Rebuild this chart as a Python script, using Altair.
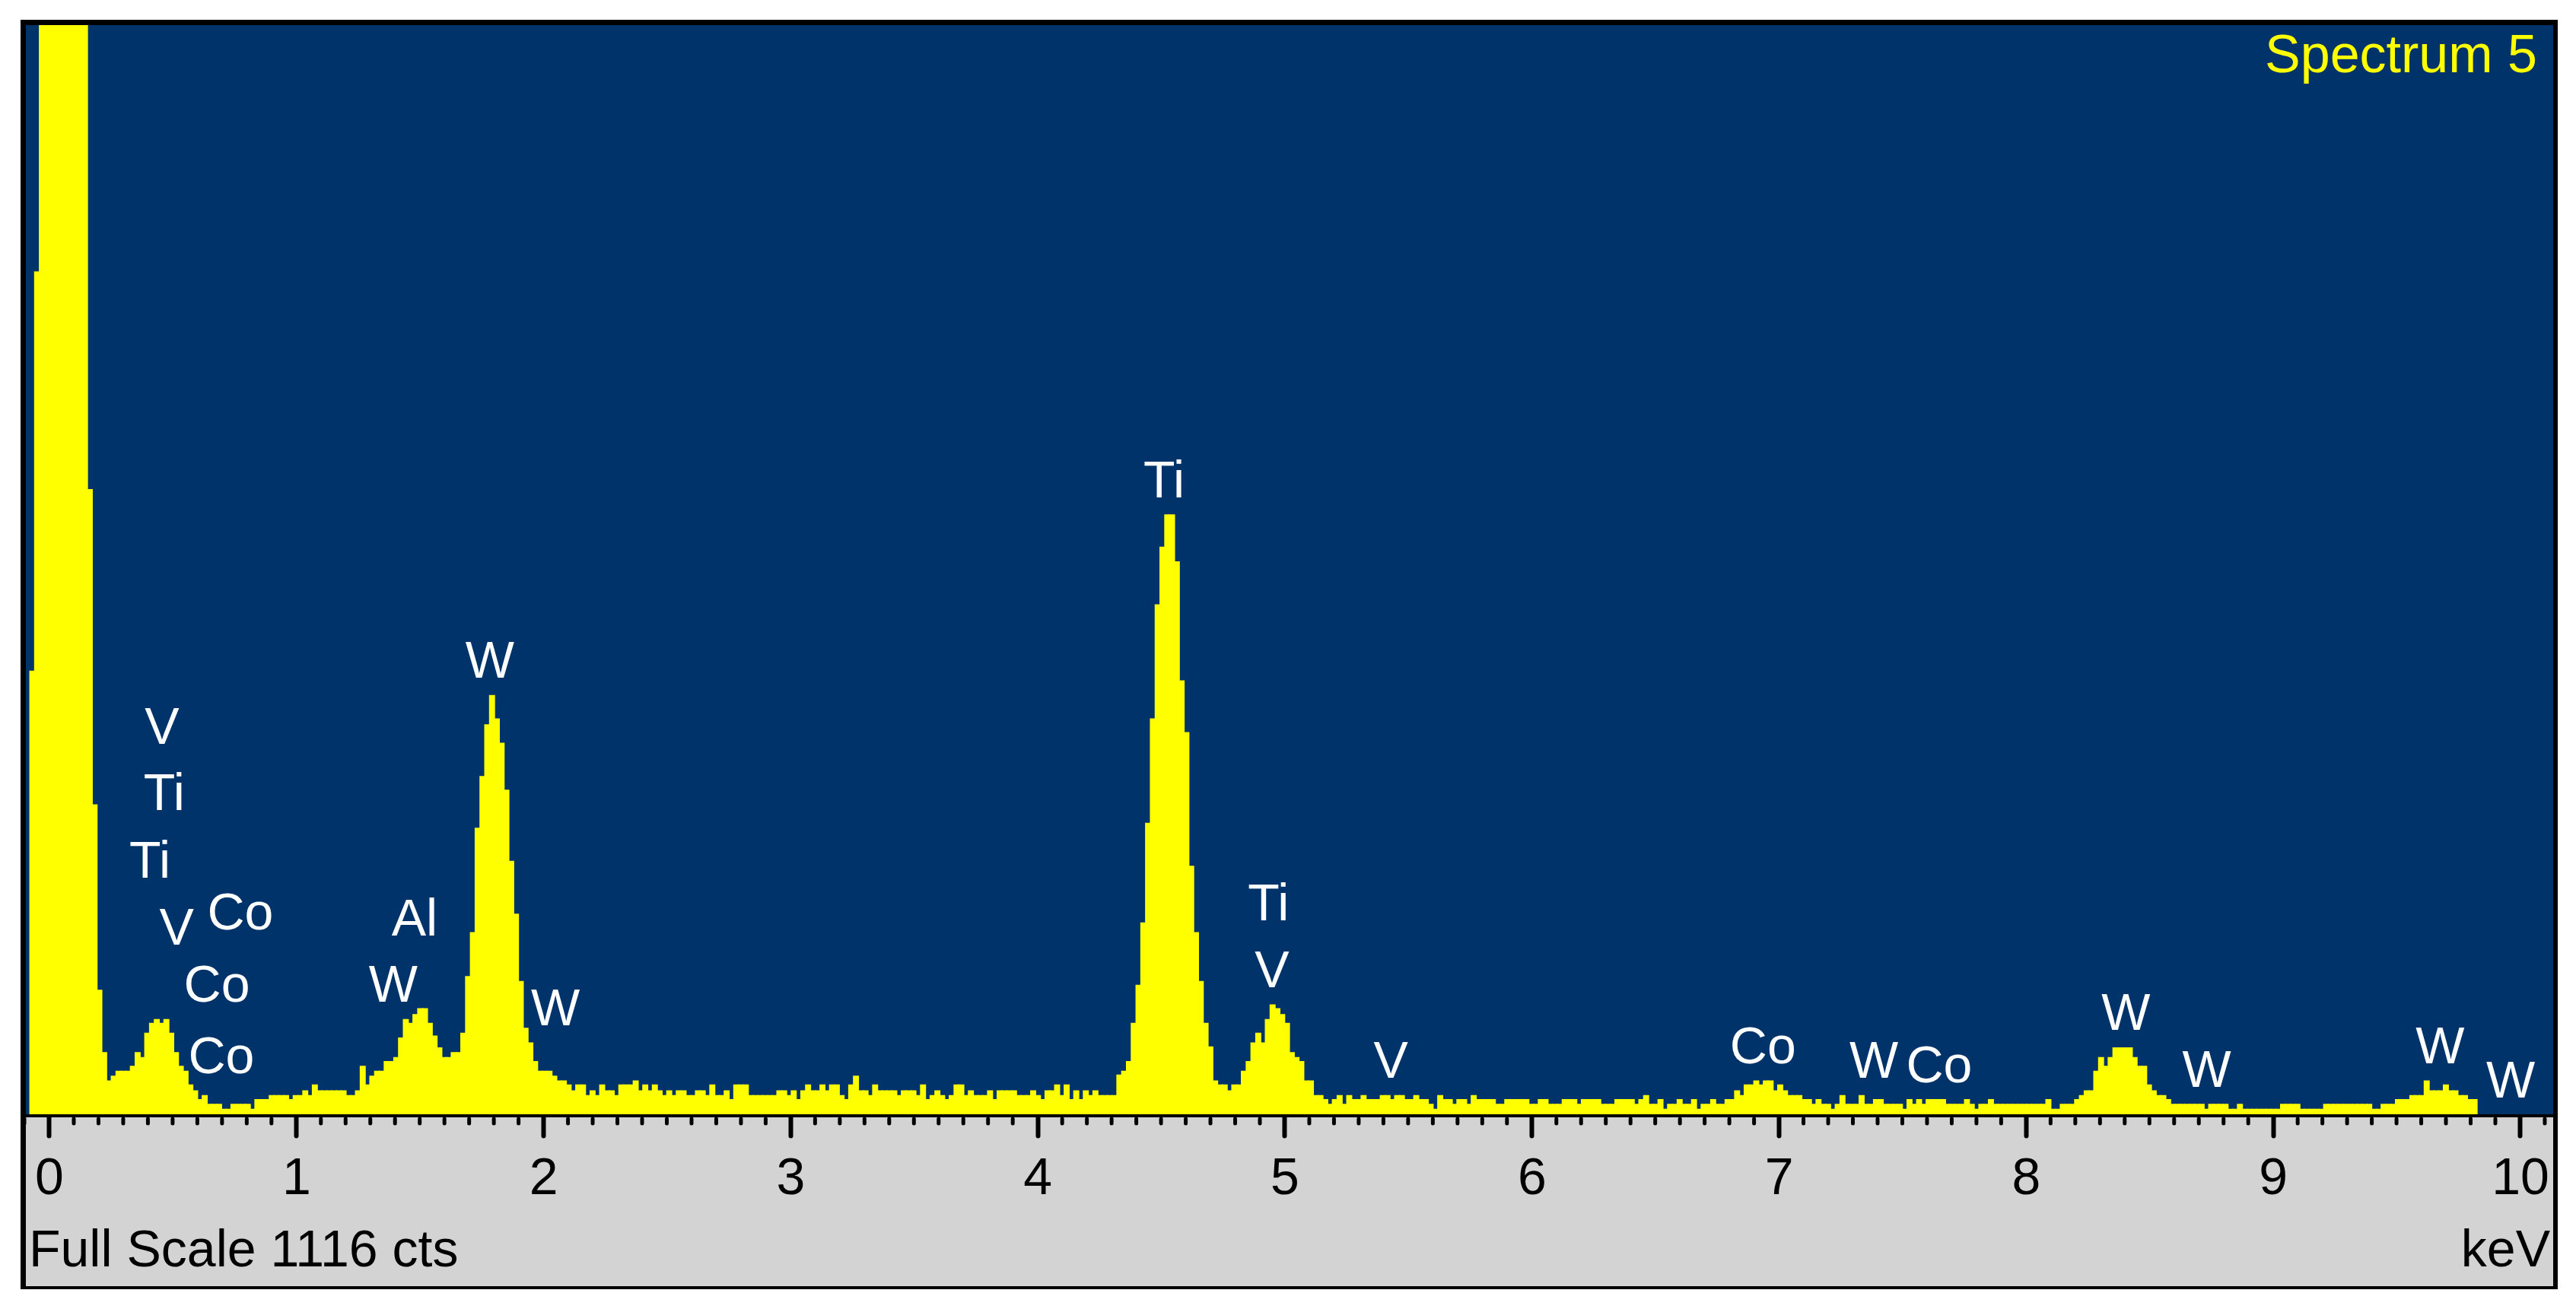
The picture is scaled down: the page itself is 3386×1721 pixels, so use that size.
import altair as alt
import pandas as pd

# ---------------- data ----------------
CHANNEL_KEV = 0.01938      # width of one spectrum channel (keV)
FIRST_CHANNEL = -4         # index of the first drawn channel

# counts per channel, starting at channel -4 (10 per row)
counts = [
    454, 863, 1116, 1116, 1116, 1116, 1116, 1116, 1116, 1116,
    1116, 1116, 640, 317, 127, 63, 34, 39, 44, 44,
    44, 49, 63, 58, 83, 93, 97, 93, 97, 83,
    63, 49, 44, 30, 24, 15, 19, 10, 10, 10,
    5, 5, 10, 10, 10, 10, 5, 15, 15, 15,
    19, 19, 19, 19, 15, 19, 19, 24, 19, 30,
    24, 24, 24, 24, 24, 24, 19, 19, 24, 49,
    30, 39, 44, 44, 54, 54, 58, 78, 97, 93,
    102, 108, 108, 93, 80, 68, 58, 58, 63, 63,
    83, 141, 186, 293, 346, 399, 429, 405, 380, 332,
    259, 205, 136, 88, 73, 54, 44, 44, 44, 39,
    34, 34, 30, 24, 30, 30, 19, 24, 19, 30,
    24, 24, 19, 30, 30, 30, 34, 24, 30, 24,
    30, 24, 19, 24, 19, 24, 24, 19, 19, 24,
    24, 19, 30, 19, 19, 24, 15, 30, 30, 30,
    19, 19, 19, 19, 19, 19, 24, 24, 19, 24,
    15, 24, 30, 24, 24, 30, 24, 30, 30, 19,
    15, 30, 39, 24, 24, 19, 30, 24, 24, 24,
    24, 19, 24, 24, 24, 19, 30, 15, 19, 24,
    19, 15, 19, 30, 30, 19, 24, 19, 19, 19,
    24, 15, 24, 24, 24, 24, 19, 19, 19, 24,
    19, 15, 24, 24, 30, 19, 30, 15, 24, 15,
    24, 19, 24, 19, 19, 19, 19, 40, 44, 54,
    93, 132, 196, 298, 405, 522, 581, 614, 614, 566,
    444, 391, 254, 186, 136, 93, 69, 34, 30, 30,
    24, 30, 30, 44, 54, 73, 83, 73, 97, 112,
    108, 102, 93, 63, 58, 54, 34, 34, 19, 19,
    15, 10, 15, 19, 10, 19, 15, 15, 19, 15,
    15, 15, 19, 19, 15, 19, 19, 15, 15, 19,
    15, 15, 10, 5, 19, 15, 15, 10, 15, 15,
    10, 19, 15, 15, 15, 15, 10, 10, 15, 15,
    15, 15, 15, 10, 10, 15, 15, 10, 10, 10,
    15, 15, 15, 10, 15, 15, 15, 15, 10, 10,
    10, 15, 15, 15, 15, 10, 15, 19, 10, 10,
    15, 5, 10, 10, 15, 10, 10, 15, 5, 10,
    10, 15, 10, 10, 15, 15, 24, 19, 30, 30,
    34, 30, 34, 34, 24, 30, 24, 19, 19, 19,
    15, 15, 10, 15, 10, 10, 5, 10, 19, 10,
    10, 10, 19, 10, 10, 15, 15, 10, 10, 10,
    10, 5, 15, 10, 15, 10, 15, 15, 15, 15,
    10, 10, 10, 10, 15, 10, 5, 10, 10, 15,
    10, 10, 10, 10, 10, 10, 10, 10, 10, 10,
    10, 15, 5, 5, 10, 10, 10, 15, 19, 24,
    24, 44, 58, 49, 58, 68, 68, 68, 68, 58,
    49, 49, 30, 24, 19, 19, 15, 10, 10, 10,
    10, 10, 10, 10, 5, 10, 10, 10, 10, 5,
    5, 10, 5, 5, 5, 5, 5, 5, 5, 5,
    10, 10, 10, 10, 5, 5, 5, 5, 5, 10,
    10, 10, 10, 10, 10, 10, 10, 10, 10, 5,
    5, 10, 10, 10, 15, 15, 15, 19, 19, 19,
    34, 24, 24, 24, 30, 24, 24, 19, 19, 15,
    15,
]

# element labels: text, energy (keV), height (counts)
label_text = ["V", "Ti", "Ti", "V", "Co", "Co", "Co", "Al", "W", "W", "W",
              "Ti", "Ti", "V", "V", "Co", "W", "Co", "W", "W", "W", "W"]
label_kev = [0.457, 0.466, 0.408, 0.516, 0.774, 0.679, 0.697, 1.479, 1.393, 1.784, 2.049,
             4.512, 4.935, 4.949, 5.430, 6.936, 7.385, 7.649, 8.405, 8.732, 9.676, 9.962]
label_cts = [395, 327, 258, 189, 205, 131, 58, 199, 131, 463, 107,
             648, 214, 146, 53, 68, 53, 48, 102, 44, 68, 33]

major_ticks = [0, 1, 2, 3, 4, 5, 6, 7, 8, 9, 10]
minor_ticks = [-0.1] + [round(i * 0.1, 1) for i in range(1, 102) if i % 10 != 0]

FULL_SCALE = 1116
X_DOMAIN = [-0.0939, 10.134]

# ---------------- layout / style ----------------
W, H = 3322, 1432
BLUE = "#00336A"
YELLOW = "#FFFF00"
GRAY = "#D3D3D3"
FONT = "Liberation Sans"

xs = alt.Scale(domain=X_DOMAIN, nice=False, zero=False)
ys = alt.Scale(domain=[0, FULL_SCALE], nice=False, zero=False)

x_axis = alt.Axis(
    values=major_ticks, format="d", title=None, domain=False, grid=False,
    ticks=True, tickSize=24, tickWidth=6, tickColor="black", tickCap="round",
    offset=4, labelFont=FONT, labelFontSize=68, labelColor="black",
    labelPadding=22, labelFlush=False, labelOverlap=False, zindex=1,
)

spec = pd.DataFrame({
    "e0": [(FIRST_CHANNEL + i) * CHANNEL_KEV for i in range(len(counts))],
    "e1": [(FIRST_CHANNEL + i + 1) * CHANNEL_KEV for i in range(len(counts))],
    "cts": counts,
})
labels_df = pd.DataFrame({"t": label_text, "kev": label_kev, "cts": label_cts})
minor_df = pd.DataFrame({"t": minor_ticks})
one = pd.DataFrame({"k": [0]})

frame = alt.Chart(one).mark_rect(color="black").encode(
    x=alt.value(-7), x2=alt.value(W + 6), y=alt.value(-7), y2=alt.value(H + 230))
blue = alt.Chart(one).mark_rect(color=BLUE).encode(
    x=alt.value(0), x2=alt.value(W), y=alt.value(0), y2=alt.value(H))
gray = alt.Chart(one).mark_rect(color=GRAY).encode(
    x=alt.value(0), x2=alt.value(W), y=alt.value(H + 4), y2=alt.value(H + 226))

bars = alt.Chart(spec).mark_rect(
    color=YELLOW, stroke=YELLOW, strokeWidth=1.6, clip=True
).encode(
    x=alt.X("e0:Q", scale=xs, axis=x_axis),
    x2="e1",
    y=alt.Y("cts:Q", scale=ys, axis=None),
    y2=alt.datum(0),
)

labels = alt.Chart(labels_df).mark_text(
    color="white", font=FONT, fontSize=68, align="center", baseline="middle"
).encode(
    x=alt.X("kev:Q", scale=xs, axis=x_axis),
    y=alt.Y("cts:Q", scale=ys, axis=None),
    text="t:N",
)

minor = alt.Chart(minor_df).mark_rule(color="black", strokeWidth=5, strokeCap="round").encode(
    x=alt.X("t:Q", scale=xs, axis=x_axis),
    y=alt.value(H + 6), y2=alt.value(H + 12),
)

spectrum_title = alt.Chart(one).mark_text(
    text="Spectrum 5", color=YELLOW, font=FONT, fontSize=70, align="right", baseline="alphabetic"
).encode(x=alt.value(3301), y=alt.value(62))

full_scale = alt.Chart(one).mark_text(
    text="Full Scale 1116 cts", color="black", font=FONT, fontSize=68, align="left", baseline="alphabetic"
).encode(x=alt.value(4), y=alt.value(1632))

kev_text = alt.Chart(one).mark_text(
    text="keV", color="black", font=FONT, fontSize=68, align="right", baseline="alphabetic"
).encode(x=alt.value(3318), y=alt.value(1632))

chart = alt.layer(
    frame, blue, gray, bars, labels, minor, spectrum_title, full_scale, kev_text
).properties(
    width=W, height=H,
    padding={"left": 26, "top": 25, "right": 20, "bottom": 245},
    autosize=alt.AutoSizeParams(type="none"),
    background="white",
).configure_view(stroke="transparent")

chart.save("out.html", embed_options={"renderer": "svg", "actions": False})
